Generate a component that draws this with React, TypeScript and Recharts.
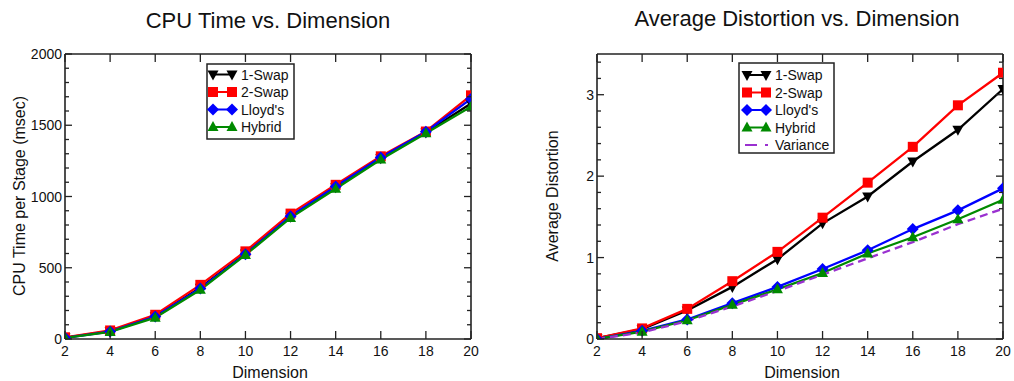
import React from 'react';
import { LineChart, Line, XAxis, YAxis } from 'recharts';

const FONT = '"Liberation Sans", Arial, Helvetica, sans-serif';

// ---------- data ----------
const dimensions = [2, 4, 6, 8, 10, 12, 14, 16, 18, 20];

const cpuOneSwap = [10, 55, 160, 360, 600, 858, 1065, 1268, 1450, 1652];
const cpuTwoSwap = [12, 60, 170, 380, 615, 880, 1082, 1282, 1456, 1710];
const cpuLloyds = [8, 52, 158, 355, 595, 862, 1070, 1274, 1455, 1685];
const cpuHybrid = [8, 50, 150, 345, 590, 850, 1055, 1260, 1444, 1630];

const distOneSwap = [0.01, 0.12, 0.35, 0.64, 0.98, 1.42, 1.75, 2.18, 2.57, 3.07];
const distTwoSwap = [0.01, 0.13, 0.37, 0.71, 1.07, 1.49, 1.92, 2.36, 2.87, 3.27];
const distLloyds = [0.0, 0.1, 0.24, 0.44, 0.64, 0.86, 1.09, 1.35, 1.58, 1.85];
const distHybrid = [0.0, 0.09, 0.23, 0.42, 0.61, 0.81, 1.05, 1.25, 1.47, 1.71];
const distVariance = [0.0, 0.08, 0.22, 0.4, 0.59, 0.79, 0.99, 1.19, 1.41, 1.6];

const xTicks = [2, 4, 6, 8, 10, 12, 14, 16, 18, 20];
const cpuTicks = [0, 100, 200, 300, 400, 500, 600, 700, 800, 900, 1000, 1100, 1200, 1300, 1400, 1500, 1600, 1700, 1800, 1900, 2000];
const cpuMajorTicks = [0, 500, 1000, 1500, 2000];
const distTicks = [0, 0.2, 0.4, 0.6, 0.8, 1, 1.2, 1.4, 1.6, 1.8, 2, 2.2, 2.4, 2.6, 2.8, 3, 3.2, 3.4];
const distMajorTicks = [0, 1, 2, 3];

const cpuData = dimensions.map((d, i) => ({
  dim: d,
  oneSwap: cpuOneSwap[i],
  twoSwap: cpuTwoSwap[i],
  lloyds: cpuLloyds[i],
  hybrid: cpuHybrid[i],
}));

const distData = dimensions.map((d, i) => ({
  dim: d,
  oneSwap: distOneSwap[i],
  twoSwap: distTwoSwap[i],
  lloyds: distLloyds[i],
  hybrid: distHybrid[i],
  variance: distVariance[i],
}));

type Shape = 'tdown' | 'square' | 'diamond' | 'tup' | 'none';

const series: { key: string; name: string; color: string; shape: Shape; dashed?: boolean }[] = [
  { key: 'oneSwap', name: '1-Swap', color: '#000000', shape: 'tdown' },
  { key: 'twoSwap', name: '2-Swap', color: '#ff0000', shape: 'square' },
  { key: 'lloyds', name: "Lloyd's", color: '#0000ff', shape: 'diamond' },
  { key: 'hybrid', name: 'Hybrid', color: '#008a00', shape: 'tup' },
  { key: 'variance', name: 'Variance', color: '#9a30d0', shape: 'none', dashed: true },
];

const AXIS = '#222';

function Marker({ shape, cx, cy, color }: { shape: Shape; cx: number; cy: number; color: string }) {
  if (cx == null || cy == null || isNaN(cx) || isNaN(cy)) return <g />;
  if (shape === 'tdown') {
    return <polygon points={`${cx - 5.5},${cy - 4} ${cx + 5.5},${cy - 4} ${cx},${cy + 6}`} fill={color} />;
  }
  if (shape === 'tup') {
    return <polygon points={`${cx - 5.5},${cy + 4} ${cx + 5.5},${cy + 4} ${cx},${cy - 6}`} fill={color} />;
  }
  if (shape === 'square') {
    return <rect x={cx - 5} y={cy - 5} width={10} height={10} fill={color} />;
  }
  if (shape === 'diamond') {
    return <polygon points={`${cx},${cy - 6} ${cx + 6},${cy} ${cx},${cy + 6} ${cx - 6},${cy}`} fill={color} />;
  }
  return <g />;
}

const makeLeftTick = (majors: number[]) => (props: any) => {
  const { x, y, payload } = props;
  const v = payload.value;
  const major = majors.some((m) => Math.abs(m - v) < 1e-6);
  return (
    <g>
      <line x1={x} x2={x + (major ? 7 : 4)} y1={y} y2={y} stroke={AXIS} strokeWidth={1.3} />
      {major && (
        <text x={x - 3} y={y} dy="0.36em" textAnchor="end" fontSize={14} fontFamily={FONT} fill="#111">
          {String(v)}
        </text>
      )}
    </g>
  );
};

const makeRightTick = (majors: number[]) => (props: any) => {
  const { x, y, payload } = props;
  const v = payload.value;
  const major = majors.some((m) => Math.abs(m - v) < 1e-6);
  return <line x1={x} x2={x - (major ? 7 : 4)} y1={y} y2={y} stroke={AXIS} strokeWidth={1.3} />;
};

const BottomTick = (props: any) => {
  const { x, y, payload } = props;
  return (
    <g>
      <line x1={x} x2={x} y1={y} y2={y - 8} stroke={AXIS} strokeWidth={1.3} />
      <text x={x} y={y + 17} textAnchor="middle" fontSize={14} fontFamily={FONT} fill="#111">
        {String(payload.value)}
      </text>
    </g>
  );
};

const TopTick = (props: any) => {
  const { x, y } = props;
  return <line x1={x} x2={x} y1={y} y2={y + 8} stroke={AXIS} strokeWidth={1.3} />;
};

function renderLines(keys: string[]) {
  return series
    .filter((s) => keys.includes(s.key))
    .map((s) => (
      <Line
        key={s.key}
        type="linear"
        dataKey={s.key}
        name={s.name}
        stroke={s.color}
        strokeWidth={2.3}
        strokeDasharray={s.dashed ? '8 5' : undefined}
        isAnimationActive={false}
        dot={(p: any) => <Marker key={`${s.key}-${p.index}`} shape={s.shape} cx={p.cx} cy={p.cy} color={s.color} />}
        activeDot={false}
      />
    ));
}

function Panel({
  data,
  width,
  left,
  yWidth,
  marginRight,
  domain,
  ticks,
  majors,
  keys,
}: {
  data: any[];
  width: number;
  left: number;
  yWidth: number;
  marginRight: number;
  domain: [number, number];
  ticks: number[];
  majors: number[];
  keys: string[];
}) {
  const axisLine = { stroke: AXIS, strokeWidth: 1.6 };
  return (
    <div style={{ position: 'absolute', left, top: 0, width, height: 381 }}>
      <LineChart width={width} height={381} data={data} margin={{ top: 53, right: marginRight, bottom: 0, left: 0 }}>
        <XAxis
          dataKey="dim"
          type="number"
          domain={[2, 20]}
          ticks={xTicks}
          interval={0}
          height={42}
          tickSize={0}
          tickMargin={0}
          tickLine={false}
          axisLine={axisLine}
          tick={BottomTick}
          allowDataOverflow
        />
        <XAxis
          xAxisId="top"
          orientation="top"
          dataKey="dim"
          type="number"
          domain={[2, 20]}
          ticks={xTicks}
          interval={0}
          height={1}
          tickSize={0}
          tickMargin={0}
          tickLine={false}
          axisLine={axisLine}
          tick={TopTick}
          allowDataOverflow
        />
        <YAxis
          type="number"
          domain={domain}
          ticks={ticks}
          interval={0}
          width={yWidth}
          tickSize={0}
          tickMargin={0}
          tickLine={false}
          axisLine={axisLine}
          tick={makeLeftTick(majors)}
          allowDataOverflow
        />
        <YAxis
          yAxisId="right"
          orientation="right"
          type="number"
          domain={domain}
          ticks={ticks}
          interval={0}
          width={1}
          tickSize={0}
          tickMargin={0}
          tickLine={false}
          axisLine={axisLine}
          tick={makeRightTick(majors)}
          allowDataOverflow
        />
        {renderLines(keys)}
      </LineChart>
    </div>
  );
}

function LegendBox({
  x,
  y,
  w,
  h,
  rows,
  m1,
  m2,
  tx,
  keys,
}: {
  x: number;
  y: number;
  w: number;
  h: number;
  rows: number[];
  m1: number;
  m2: number;
  tx: number;
  keys: string[];
}) {
  const items = series.filter((s) => keys.includes(s.key));
  return (
    <g>
      <rect x={x} y={y} width={w} height={h} fill="#fff" stroke="#222" strokeWidth={1.5} />
      {items.map((s, i) => (
        <g key={s.key}>
          {s.dashed ? (
            <line x1={m1 - 2} x2={m2 + 2} y1={rows[i]} y2={rows[i]} stroke={s.color} strokeWidth={2} strokeDasharray="12 8" />
          ) : (
            <line x1={m1} x2={m2} y1={rows[i]} y2={rows[i]} stroke={s.color} strokeWidth={2} />
          )}
          <Marker shape={s.shape} cx={m1} cy={rows[i]} color={s.color} />
          <Marker shape={s.shape} cx={m2} cy={rows[i]} color={s.color} />
          <text x={tx} y={rows[i]} dy="0.36em" fontSize={14} fontFamily={FONT} fill="#111">
            {s.name}
          </text>
        </g>
      ))}
    </g>
  );
}

export default function App() {
  return (
    <div style={{ position: 'absolute', left: 0, top: 0, width: 1014, height: 381, background: '#fff', overflow: 'hidden' }}>
      <Panel
        data={cpuData}
        width={507}
        left={0}
        yWidth={65}
        marginRight={35}
        domain={[0, 2000]}
        ticks={cpuTicks}
        majors={cpuMajorTicks}
        keys={['oneSwap', 'twoSwap', 'lloyds', 'hybrid']}
      />
      <Panel
        data={distData}
        width={494}
        left={520}
        yWidth={77}
        marginRight={10}
        domain={[0, 3.5]}
        ticks={distTicks}
        majors={distMajorTicks}
        keys={['oneSwap', 'twoSwap', 'lloyds', 'hybrid', 'variance']}
      />
      <svg width={1014} height={381} style={{ position: 'absolute', left: 0, top: 0, pointerEvents: 'none' }}>
        <text x={268} y={28} textAnchor="middle" fontSize={22} fontFamily={FONT} fill="#111">
          CPU Time vs. Dimension
        </text>
        <text x={797} y={26} textAnchor="middle" fontSize={22} fontFamily={FONT} fill="#111">
          Average Distortion vs. Dimension
        </text>
        <text x={270} y={378} textAnchor="middle" fontSize={16} fontFamily={FONT} fill="#111">
          Dimension
        </text>
        <text x={802} y={378} textAnchor="middle" fontSize={16} fontFamily={FONT} fill="#111">
          Dimension
        </text>
        <text
          x={19}
          y={196}
          transform="rotate(-90, 19, 196)"
          textAnchor="middle"
          dy="0.36em"
          fontSize={16}
          fontFamily={FONT}
          fill="#111"
        >
          CPU Time per Stage (msec)
        </text>
        <text
          x={552}
          y={196}
          transform="rotate(-90, 552, 196)"
          textAnchor="middle"
          dy="0.36em"
          fontSize={16}
          fontFamily={FONT}
          fill="#111"
        >
          Average Distortion
        </text>
        <LegendBox
          x={207}
          y={64}
          w={87}
          h={75}
          rows={[74.5, 92, 109.5, 127]}
          m1={213}
          m2={232}
          tx={241}
          keys={['oneSwap', 'twoSwap', 'lloyds', 'hybrid']}
        />
        <LegendBox
          x={739}
          y={63}
          w={95}
          h={90}
          rows={[75, 92.5, 110, 127.5, 145]}
          m1={747}
          m2={766}
          tx={775}
          keys={['oneSwap', 'twoSwap', 'lloyds', 'hybrid', 'variance']}
        />
      </svg>
    </div>
  );
}
